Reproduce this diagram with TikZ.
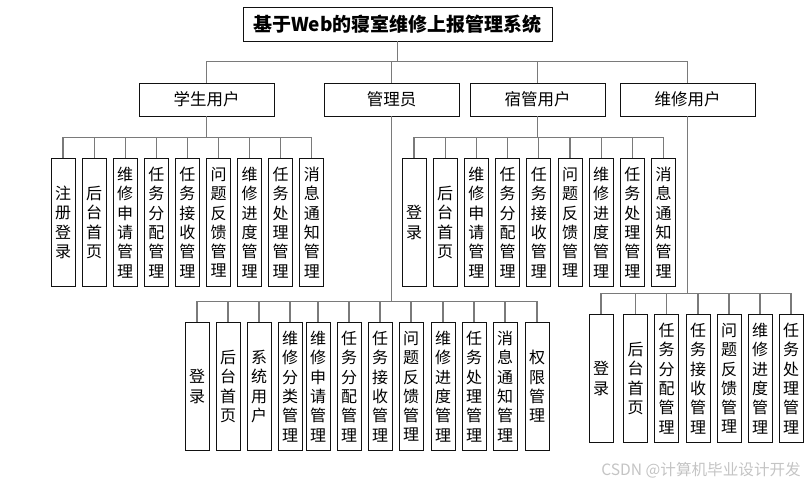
\documentclass[tikz,border=0pt]{standalone}
\usepackage{fontspec}
\setmainfont{Noto Sans CJK SC}
\XeTeXlinebreaklocale "zh"
\XeTeXlinebreakskip=0pt plus 1pt
\begin{document}
\begin{tikzpicture}[x=1pt, y=-1pt, line join=miter]
  \definecolor{Ink}{HTML}{111111}
  \definecolor{Wire}{HTML}{7A7A7A}
  \definecolor{Mark}{HTML}{C4C4C4}

  \tikzset{
    box/.style={draw=Ink, line width=0.9pt, fill=white, inner sep=0pt},
    rolebox/.style={box, minimum width=135pt, minimum height=33pt, font=\fontsize{16.5}{19}\selectfont},
    leaf/.style={box, anchor=north, minimum width=24pt, minimum height=128pt,
      text width=16pt, align=center, font=\fontsize{16}{19.3}\selectfont},
    wire/.style={draw=Wire, line width=1.1pt}
  }

  \useasboundingbox (0,0) rectangle (812,486);

  % Title and roles
  \node[box, minimum width=309pt, minimum height=34pt, font=\fontsize{19}{21}\selectfont\bfseries]
    (root) at (397.5,24) {基于Web的寝室维修上报管理系统};
  \node[rolebox] (stu) at (206.5,99.5) {学生用户};
  \node[rolebox] (adm) at (391.5,99.5) {管理员};
  \node[rolebox] (dorm) at (537.5,99.5) {宿管用户};
  \node[rolebox] (rep) at (687.5,99.5) {维修用户};
  \foreach \r in {stu,adm,dorm,rep}
    \draw[wire] (root.south) -- ++(0,20) -| (\r.north);

  % Student functions
  \foreach \t [count=\i] in {注册登录,后台首页,维修申请管理,任务分配管理,任务接收管理,
      问题反馈管理,维修进度管理,任务处理管理,消息通知管理} {
    \node[leaf] (stu\i) at ({63+31.1*(\i-1)},158) {\t};
    \draw[wire] (stu.south) -- ++(0,21) -| (stu\i.north);
  }

  % Dorm manager functions
  \foreach \t [count=\i] in {登录,后台首页,维修申请管理,任务分配管理,任务接收管理,
      问题反馈管理,维修进度管理,任务处理管理,消息通知管理} {
    \node[leaf] (dorm\i) at ({414+31.2*(\i-1)},158) {\t};
    \draw[wire] (dorm.south) -- ++(0,21) -| (dorm\i.north);
  }

  % Admin functions
  \foreach \x/\t [count=\i] in {197/登录,228/后台首页,259/系统用户,290/维修分类管理,
      318/维修申请管理,349/任务分配管理,380/任务接收管理,411/问题反馈管理,
      443/维修进度管理,474/任务处理管理,505/消息通知管理,537/权限管理} {
    \node[leaf] (adm\i) at (\x,322) {\t};
    \draw[wire] (adm.south) -- ++(0,185) -| (adm\i.north);
  }

  % Repair worker functions
  \foreach \x/\t [count=\i] in {601/登录,635.5/后台首页,666.5/任务分配管理,698/任务接收管理,
      729/问题反馈管理,760/维修进度管理,791/任务处理管理} {
    \node[leaf] (rep\i) at (\x,314) {\t};
    \draw[wire] (rep.south) -- ++(0,177) -| (rep\i.north);
  }

  \node[font=\fontsize{15.6}{17}\selectfont, text=Mark, anchor=east, inner sep=0pt]
    (mark) at (801,470) {CSDN @计算机毕业设计开发};
\end{tikzpicture}
\end{document}
